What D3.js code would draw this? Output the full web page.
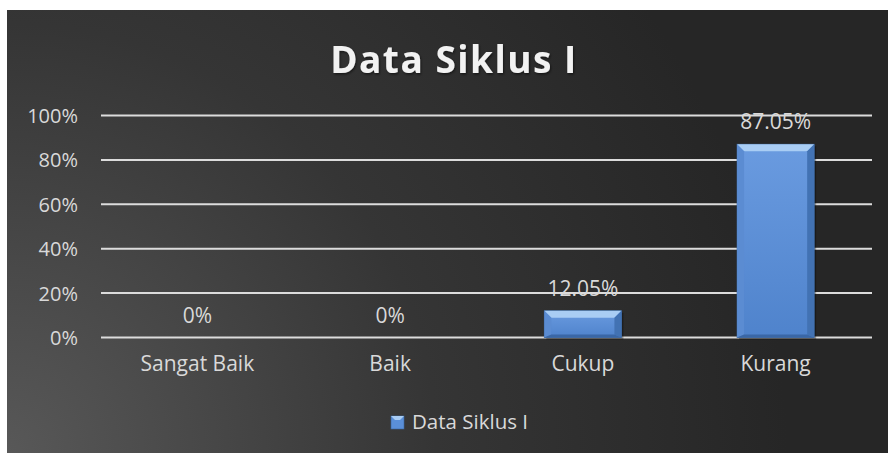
<!DOCTYPE html>
<html>
<head>
<meta charset="utf-8">
<script src="https://cdn.jsdelivr.net/npm/d3@7"></script>
<style>
  body { margin: 0; background: #fff; }
  svg { display: block; }
  text { font-family: "Open Sans", sans-serif; }
</style>
</head>
<body>
<div id="chart"></div>
<script>
const categories = ['Sangat Baik', 'Baik', 'Cukup', 'Kurang'];
const values = [0, 0, 0.1205, 0.8705];
const valueLabels = ['0%', '0%', '12.05%', '87.05%'];
const yTicks = [0, 0.2, 0.4, 0.6, 0.8, 1];
const title = 'Data Siklus I';
const seriesName = 'Data Siklus I';

const W = 888, H = 453;
const frame = {x: 7, y: 10, w: 881, h: 443};
const plot = {left: 101, right: 872, top: 115.5, bottom: 337.5};

const svg = d3.select('#chart').append('svg')
    .attr('width', W)
    .attr('height', H);

const defs = svg.append('defs');

// background: light in bottom-left corner, dark elsewhere
const bg = defs.append('radialGradient')
    .attr('id', 'bg')
    .attr('gradientUnits', 'userSpaceOnUse')
    .attr('cx', frame.x).attr('cy', frame.y + frame.h)
    .attr('r', 780);
bg.append('stop').attr('offset', '0%').attr('stop-color', '#585858');
bg.append('stop').attr('offset', '55%').attr('stop-color', '#353535');
bg.append('stop').attr('offset', '100%').attr('stop-color', '#262626');

const face = defs.append('linearGradient')
    .attr('id', 'face').attr('x1', 0).attr('y1', 0).attr('x2', 0).attr('y2', 1);
face.append('stop').attr('offset', '0%').attr('stop-color', '#6a9be0');
face.append('stop').attr('offset', '100%').attr('stop-color', '#4f83cc');

const shadow = defs.append('filter').attr('id', 'tshadow');
shadow.append('feDropShadow')
    .attr('dx', 1).attr('dy', 1.5).attr('stdDeviation', 1)
    .attr('flood-color', '#000').attr('flood-opacity', 0.5);

svg.append('rect')
    .attr('x', frame.x).attr('y', frame.y)
    .attr('width', frame.w).attr('height', frame.h)
    .attr('fill', 'url(#bg)');

// title
svg.append('text')
    .attr('x', 454).attr('y', 73)
    .attr('text-anchor', 'middle')
    .attr('font-size', 37)
    .attr('font-weight', 'bold')
    .attr('letter-spacing', 1.5)
    .attr('fill', '#f2f2f2')
    .attr('filter', 'url(#tshadow)')
    .text(title);

const x = d3.scaleBand()
    .domain(categories)
    .range([plot.left, plot.right])
    .paddingInner(0.6)
    .paddingOuter(0.3);

const y = d3.scaleLinear()
    .domain([0, 1])
    .range([plot.bottom, plot.top]);

// gridlines
svg.append('g')
    .selectAll('line')
    .data(yTicks)
    .join('line')
    .attr('x1', plot.left).attr('x2', plot.right)
    .attr('y1', d => y(d)).attr('y2', d => y(d))
    .attr('stroke', '#dcdcdc')
    .attr('stroke-width', 2);

// y axis labels
const yAxis = svg.append('g')
    .attr('transform', `translate(${plot.left},0)`)
    .call(d3.axisLeft(y).tickValues(yTicks).tickFormat(d3.format('.0%')).tickSize(0).tickPadding(23));
yAxis.select('.domain').remove();
yAxis.selectAll('text')
    .attr('font-size', 20)
    .attr('font-family', '"Open Sans", sans-serif')
    .attr('fill', '#d9d9d9')
    .attr('dy', '0.35em');

// x axis labels
const xAxis = svg.append('g')
    .attr('transform', `translate(0,${plot.bottom})`)
    .call(d3.axisBottom(x).tickSize(0).tickPadding(19));
xAxis.select('.domain').remove();
xAxis.selectAll('text')
    .attr('font-size', 21)
    .attr('font-family', '"Open Sans", sans-serif')
    .attr('fill', '#d9d9d9');

// bars with bevel
const bw = x.bandwidth();
const bev = 7;
const bars = svg.append('g')
    .selectAll('g')
    .data(categories.map((c, i) => ({c, v: values[i], label: valueLabels[i]})))
    .join('g');

const barData = bars.filter(d => d.v > 0);
barData.append('rect')
    .attr('x', d => x(d.c) + 2).attr('y', d => y(d.v) + 2)
    .attr('width', bw).attr('height', d => y(0) - y(d.v))
    .attr('fill', '#000').attr('opacity', 0.3);
barData.append('rect')
    .attr('x', d => x(d.c)).attr('y', d => y(d.v))
    .attr('width', bw).attr('height', d => y(0) - y(d.v))
    .attr('fill', 'url(#face)')
    .attr('stroke', '#3b679f').attr('stroke-width', 0.8);
// top bevel
barData.append('path')
    .attr('d', d => {
        const x0 = x(d.c), x1 = x0 + bw, t = y(d.v);
        return `M${x0},${t}L${x1},${t}L${x1 - bev},${t + bev}L${x0 + bev},${t + bev}Z`;
    })
    .attr('fill', '#a9cdf4');
// left bevel
barData.append('path')
    .attr('d', d => {
        const x0 = x(d.c), t = y(d.v), b = y(0);
        return `M${x0},${t}L${x0 + bev},${t + bev}L${x0 + bev},${b - 3}L${x0},${b}Z`;
    })
    .attr('fill', '#5b8cd2');
// right bevel
barData.append('path')
    .attr('d', d => {
        const x1 = x(d.c) + bw, t = y(d.v), b = y(0);
        return `M${x1},${t}L${x1 - bev},${t + bev}L${x1 - bev},${b - 3}L${x1},${b}Z`;
    })
    .attr('fill', '#4272b3');
// bottom bevel
barData.append('path')
    .attr('d', d => {
        const x0 = x(d.c), x1 = x0 + bw, b = y(0);
        return `M${x0},${b}L${x1},${b}L${x1 - bev},${b - 3}L${x0 + bev},${b - 3}Z`;
    })
    .attr('fill', '#3a67a6');

// value labels
bars.append('text')
    .attr('x', d => x(d.c) + bw / 2)
    .attr('y', d => y(d.v) - 15)
    .attr('text-anchor', 'middle')
    .attr('font-size', 21)
    .attr('fill', '#d9d9d9')
    .text(d => d.label);

// legend
const leg = svg.append('g').attr('transform', 'translate(391,416)');
leg.append('rect')
    .attr('width', 13).attr('height', 13)
    .attr('fill', '#5a8fd8').attr('stroke', '#3b679f').attr('stroke-width', 0.6);
leg.append('path')
    .attr('d', 'M0,0L13,0L9,4L4,4Z')
    .attr('fill', '#a9cdf4');
leg.append('text')
    .attr('x', 21).attr('y', 13)
    .attr('font-size', 20.5)
    .attr('fill', '#d9d9d9')
    .text(seriesName);
</script>
</body>
</html>
